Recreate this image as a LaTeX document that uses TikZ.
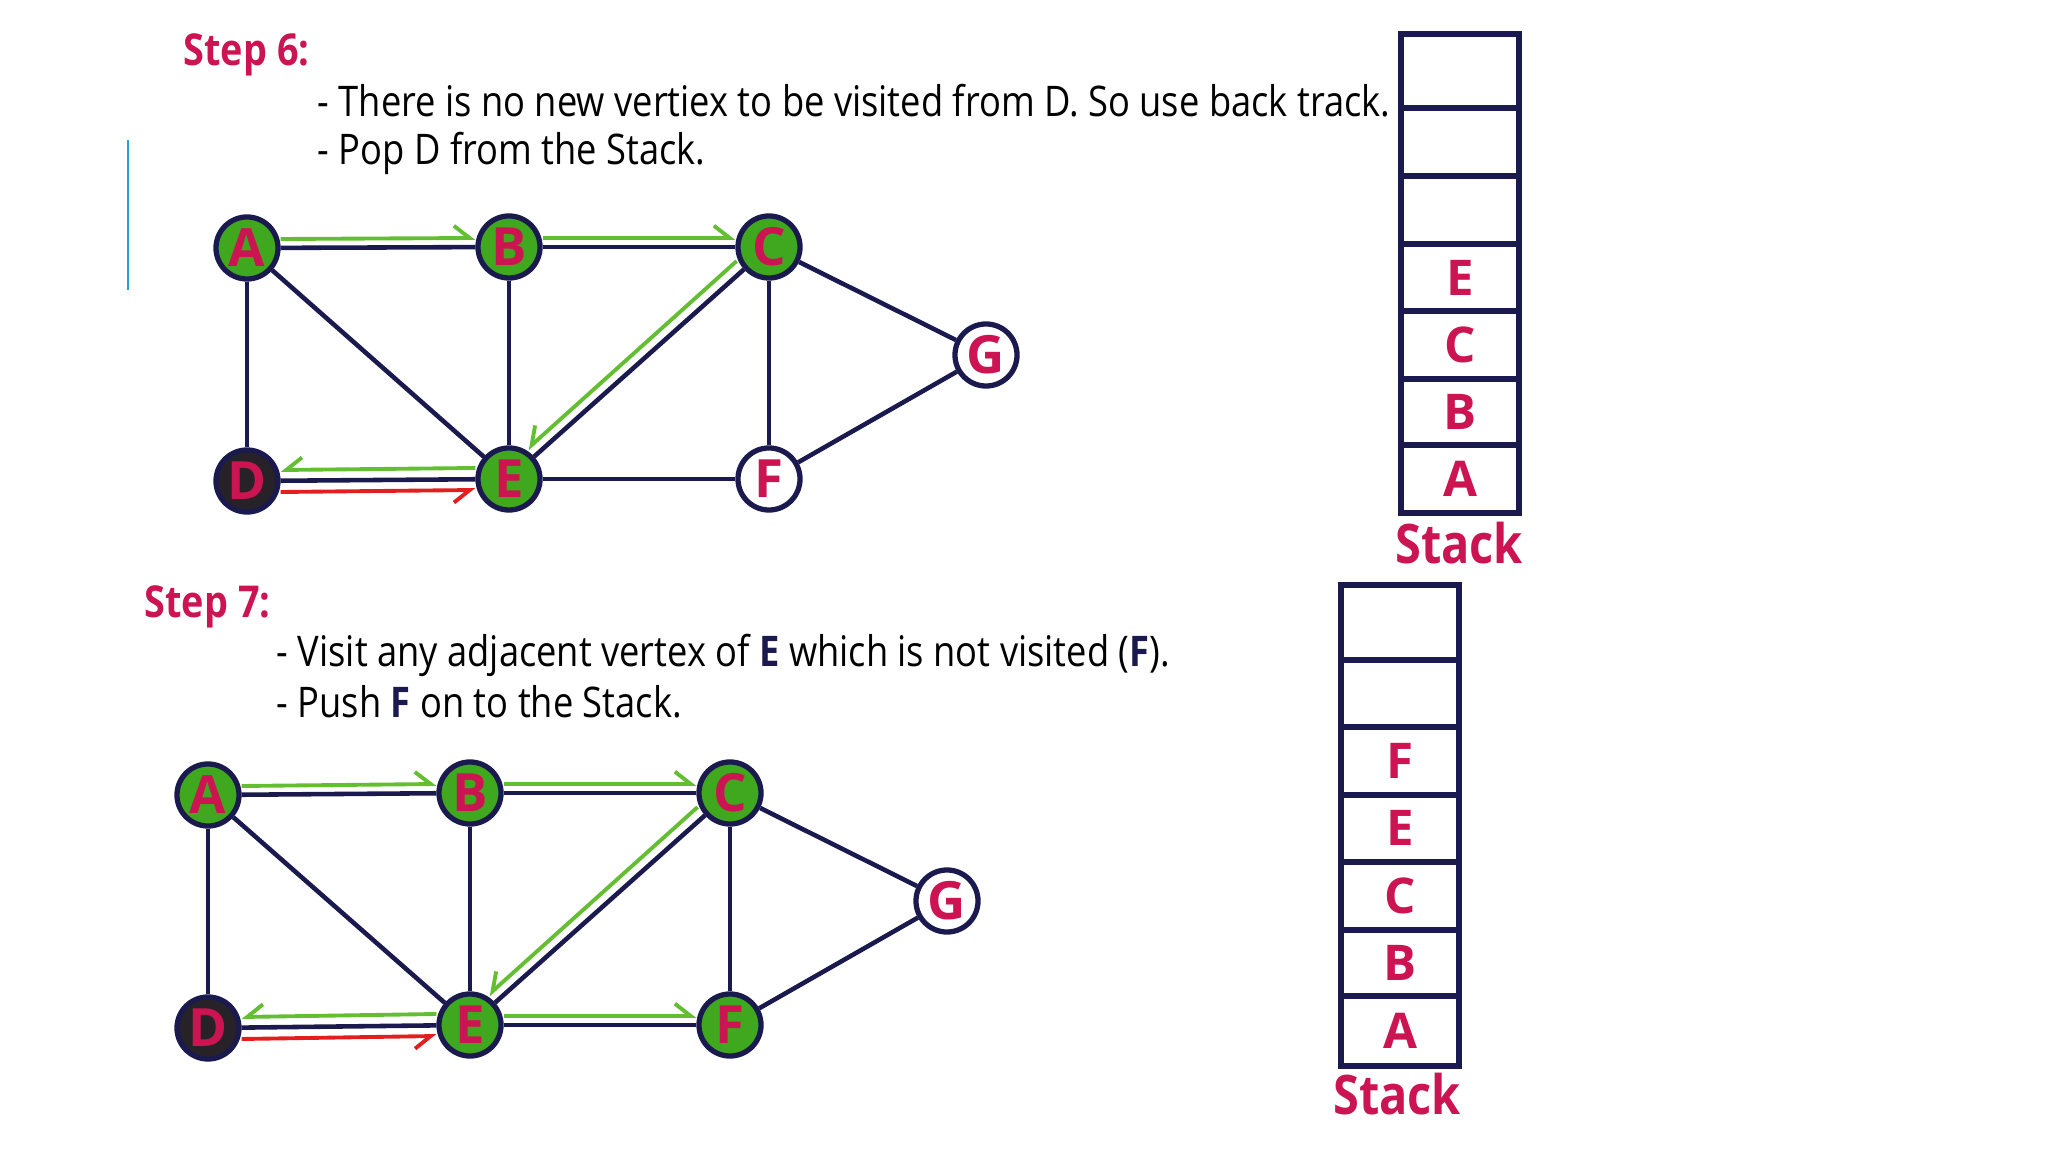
\documentclass[tikz,border=0pt]{standalone}
\usepackage{fontspec}
\setmainfont[FakeStretch=0.86]{Open Sans}
\newfontfamily\letterfont{Open Sans}
\usetikzlibrary{arrows.meta}

\definecolor{crimson}{RGB}{204,20,82}
\definecolor{navy}{RGB}{27,26,78}
\definecolor{visgreen}{RGB}{64,168,30}
\definecolor{arrgreen}{RGB}{100,190,50}
\definecolor{arrred}{RGB}{226,30,30}
\definecolor{popdark}{RGB}{38,34,40}
\definecolor{barblue}{RGB}{40,160,220}

\begin{document}
\begin{tikzpicture}[x=0.01cm,y=-0.01cm,
  vtx/.style={circle,draw=navy,line width=1.5pt,minimum size=0.62cm,inner sep=0pt,
    text=crimson,font=\letterfont\fontsize{15}{15}\selectfont\bfseries},
  seen/.style={vtx,fill=visgreen},
  fresh/.style={vtx,fill=white},
  popped/.style={vtx,fill=popdark},
  edge/.style={navy,line width=1.3pt},
  fwd/.style={arrgreen,line width=1.1pt,-{Straight Barb[harpoon,length=4.5pt,width=7pt]}},
  back/.style={arrgreen,line width=1.1pt,-{Straight Barb[harpoon,swap,length=4.5pt,width=7pt]}},
  retrace/.style={arrred,line width=1.1pt,-{Straight Barb[harpoon,swap,length=4.5pt,width=7pt]}},
  steptitle/.style={anchor=west,inner sep=0pt,text=crimson,font=\fontsize{12.5}{12.5}\selectfont\bfseries},
  bullet/.style={anchor=west,inner sep=0pt,font=\fontsize{12}{12}\selectfont},
  stackbox/.style={navy,line width=1.8pt},
  stackitem/.style={text=crimson,font=\letterfont\fontsize{14}{14}\selectfont\bfseries},
  stacklbl/.style={text=crimson,font=\fontsize{15.5}{15.5}\selectfont\bfseries}]
\useasboundingbox (0,0) rectangle (2048,1152);

% step 6
\draw[barblue,line width=0.8pt] (128,140) -- (128,290);
\node[steptitle] (t6) at (183,55) {Step 6:};
\node[bullet] (t6a) at (317,101) {- There is no new vertiex to be visited from D. So use back track.};
\node[bullet] (t6b) at (317,153) {- Pop D from the Stack.};

\node[seen] (A6) at (247,248) {A};
\node[seen] (B6) at (509,247) {B};
\node[seen] (C6) at (769,247) {C};
\node[fresh] (G6) at (986,355) {G};
\node[popped] (D6) at (247,481) {D};
\node[seen] (E6) at (509,479) {E};
\node[fresh] (F6) at (769,479) {F};

\draw[edge] (A6) -- (B6);
\draw[edge] (B6) -- (C6);
\draw[edge] (A6) -- (D6);
\draw[edge] (A6) -- (E6);
\draw[edge] (B6) -- (E6);
\draw[edge] (C6) -- (E6);
\draw[edge] (C6) -- (F6);
\draw[edge] (C6) -- (G6);
\draw[edge] (G6) -- (F6);
\draw[edge] (D6) -- (E6);
\draw[edge] (E6) -- (F6);

\draw[fwd] ([shift={(0,-9)}]A6.east) -- ([shift={(0,-9)}]B6.west);
\draw[fwd] ([shift={(0,-9)}]B6.east) -- ([shift={(0,-9)}]C6.west);
\draw[back] ([shift={(-7,-8)}]C6.221.7) -- ([shift={(-7,-8)}]E6.41.7);
\draw[back] ([shift={(0,-11)}]E6.west) -- ([shift={(0,-11)}]D6.east);
\draw[retrace] ([shift={(0,11)}]D6.east) -- ([shift={(0,11)}]E6.west);

\draw[stackbox] (1401,34) rectangle (1519,513);
\draw[stackbox] (1401,108) -- (1519,108);
\draw[stackbox] (1401,176) -- (1519,176);
\draw[stackbox] (1401,244) -- (1519,244);
\draw[stackbox] (1401,311) -- (1519,311);
\draw[stackbox] (1401,379) -- (1519,379);
\draw[stackbox] (1401,445) -- (1519,445);
\node[stackitem] (s6e) at (1460,278) {E};
\node[stackitem] (s6c) at (1460,345) {C};
\node[stackitem] (s6b) at (1460,412) {B};
\node[stackitem] (s6a) at (1460,479) {A};
\node[stacklbl] (s6) at (1459,543) {Stack};

% step 7
\node[steptitle] (t7) at (144,607) {Step 7:};
\node[bullet] (t7a) at (276,655) {- Visit any adjacent vertex of \textcolor{navy}{\textbf{E}} which is not visited (\textcolor{navy}{\textbf{F}}).};
\node[bullet] (t7b) at (276,702) {- Push \textcolor{navy}{\textbf{F}} on to the Stack.};

\node[seen] (A7) at (208,795) {A};
\node[seen] (B7) at (470,793) {B};
\node[seen] (C7) at (730,793) {C};
\node[fresh] (G7) at (947,901) {G};
\node[popped] (D7) at (208,1028) {D};
\node[seen] (E7) at (470,1025) {E};
\node[seen] (F7) at (730,1025) {F};

\draw[edge] (A7) -- (B7);
\draw[edge] (B7) -- (C7);
\draw[edge] (A7) -- (D7);
\draw[edge] (A7) -- (E7);
\draw[edge] (B7) -- (E7);
\draw[edge] (C7) -- (E7);
\draw[edge] (C7) -- (F7);
\draw[edge] (C7) -- (G7);
\draw[edge] (G7) -- (F7);
\draw[edge] (D7) -- (E7);
\draw[edge] (E7) -- (F7);

\draw[fwd] ([shift={(0,-9)}]A7.east) -- ([shift={(0,-9)}]B7.west);
\draw[fwd] ([shift={(0,-9)}]B7.east) -- ([shift={(0,-9)}]C7.west);
\draw[back] ([shift={(-7,-8)}]C7.221.7) -- ([shift={(-7,-8)}]E7.41.7);
\draw[back] ([shift={(0,-11)}]E7.west) -- ([shift={(0,-11)}]D7.east);
\draw[retrace] ([shift={(0,11)}]D7.east) -- ([shift={(0,11)}]E7.west);
\draw[fwd] ([shift={(0,-9)}]E7.east) -- ([shift={(0,-9)}]F7.west);

\draw[stackbox] (1341,585) rectangle (1459,1066);
\draw[stackbox] (1341,660) -- (1459,660);
\draw[stackbox] (1341,727) -- (1459,727);
\draw[stackbox] (1341,795) -- (1459,795);
\draw[stackbox] (1341,862) -- (1459,862);
\draw[stackbox] (1341,930) -- (1459,930);
\draw[stackbox] (1341,996) -- (1459,996);
\node[stackitem] (s7f) at (1400,761) {F};
\node[stackitem] (s7e) at (1400,828) {E};
\node[stackitem] (s7c) at (1400,896) {C};
\node[stackitem] (s7b) at (1400,963) {B};
\node[stackitem] (s7a) at (1400,1031) {A};
\node[stacklbl] (s7) at (1397,1094) {Stack};
\end{tikzpicture}
\end{document}
